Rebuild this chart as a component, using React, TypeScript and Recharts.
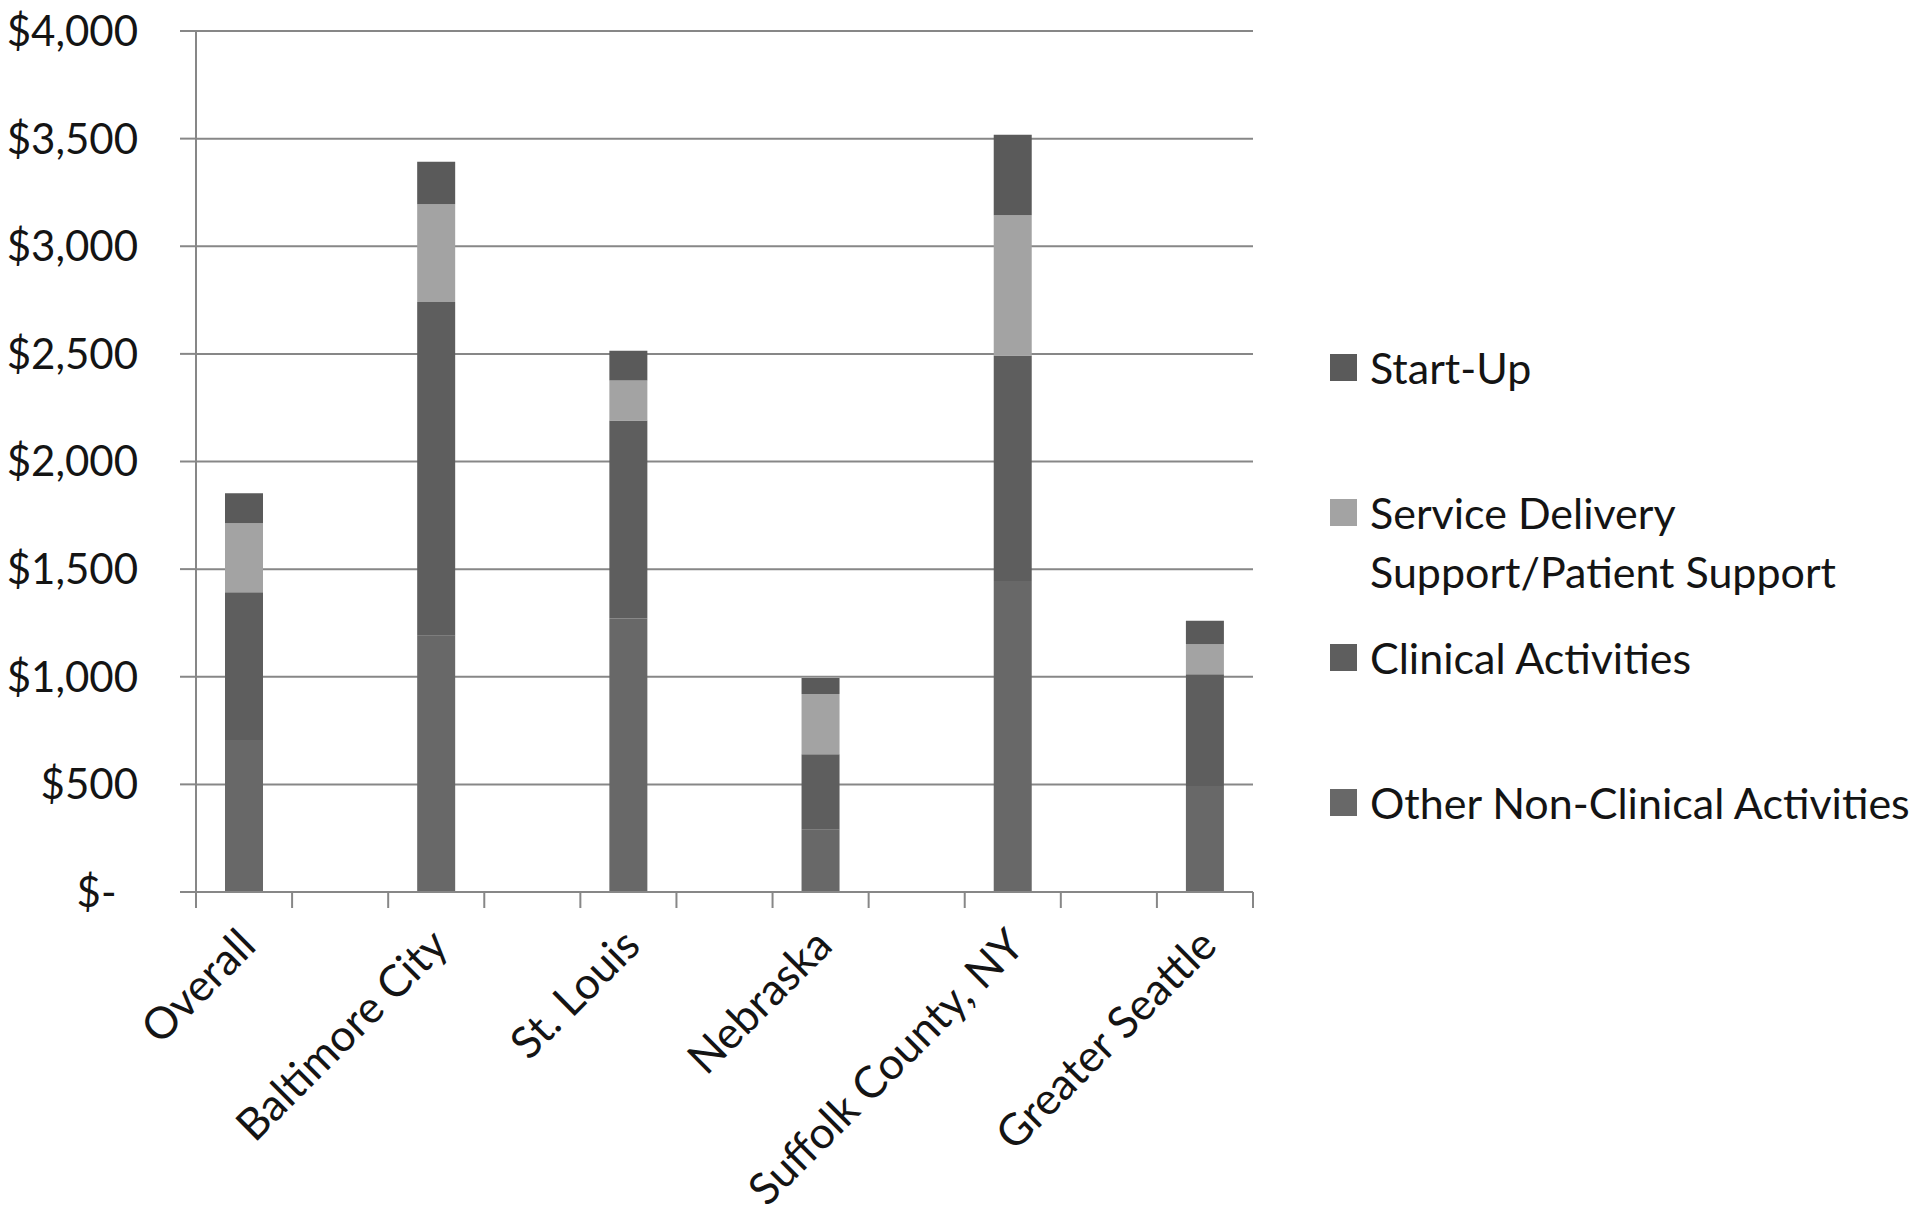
import React from 'react'
import { BarChart, Bar, XAxis, YAxis, CartesianGrid, Legend } from 'recharts'

const sites = ['Overall', 'Baltimore City', 'St. Louis', 'Nebraska', 'Suffolk County, NY', 'Greater Seattle']
const otherNonClinical = [706, 1190, 1271, 289, 1445, 492]
const clinical = [686, 1551, 920, 351, 1047, 520]
const serviceDelivery = [321, 454, 185, 280, 652, 139]
const startUp = [139, 197, 139, 74, 374, 109]
const yTicks = [0, 500, 1000, 1500, 2000, 2500, 3000, 3500, 4000]

const AXIS = '#878787'
const TEXT = '#141414'
const FONT = 'Lato, "Noto Sans", sans-serif'

// legend top-to-bottom; bars are stacked bottom-to-top in the reverse order
const series = [
  { key: 'startUp', name: ['Start-Up'], color: '#5a5a5a' },
  { key: 'service', name: ['Service Delivery', 'Support/Patient Support'], color: '#a3a3a3' },
  { key: 'clinical', name: ['Clinical Activities'], color: '#5e5e5e' },
  { key: 'other', name: ['Other Non-Clinical Activities'], color: '#686868' },
]

// Excel left an empty category between the sites
const rows: any[] = []
sites.forEach((site, i) => {
  if (i > 0) rows.push({ slot: rows.length, label: '' })
  rows.push({
    slot: rows.length,
    label: site,
    other: otherNonClinical[i],
    clinical: clinical[i],
    service: serviceDelivery[i],
    startUp: startUp[i],
  })
})

const money = (v: number) => (v === 0 ? '$-\u00a0\u00a0' : '$' + v.toLocaleString('en-US'))

function XTick(props: any) {
  const { x, y, payload, index } = props
  const half = payload.offset || 44
  const top = y - 16
  const label = rows[payload.value]?.label ?? ''
  return (
    <g>
      <line x1={x - half} x2={x - half} y1={top} y2={y} stroke={AXIS} strokeWidth={2} />
      {index === rows.length - 1 && (
        <line x1={x + half} x2={x + half} y1={top} y2={y} stroke={AXIS} strokeWidth={2} />
      )}
      {label && (
        <text
          transform={`translate(${x + 14},${top + 56}) rotate(-45)`}
          textAnchor="end"
          fill={TEXT}
          fontSize={44}
          fontFamily={FONT}
        >
          {label}
        </text>
      )}
    </g>
  )
}

function LegendBox() {
  return (
    <div style={{ fontFamily: FONT, fontSize: 43, color: TEXT }}>
      {series.map((s) => (
        <div key={s.key} style={{ display: 'flex', height: 145, lineHeight: '59px' }}>
          <div style={{ width: 27, height: 27, marginTop: 16, marginRight: 13, background: s.color, flexShrink: 0 }} />
          <div style={{ whiteSpace: 'nowrap' }}>
            {s.name.map((line) => (
              <div key={line}>{line}</div>
            ))}
          </div>
        </div>
      ))}
    </div>
  )
}

export default function App() {
  return (
    <div style={{ position: 'absolute', left: 0, top: 0, width: 1920, height: 1216, background: '#fff' }}>
      <BarChart
        width={1920}
        height={1216}
        data={rows}
        margin={{ top: 31, right: 667, bottom: 0, left: 0 }}
      >
        <CartesianGrid vertical={false} stroke={AXIS} strokeWidth={2} />
        <XAxis
          dataKey="slot"
          type="category"
          height={324}
          interval={0}
          tickLine={false}
          tickSize={16}
          tickMargin={0}
          axisLine={{ stroke: AXIS, strokeWidth: 2 }}
          tick={<XTick />}
        />
        <YAxis
          width={196}
          domain={[0, 4000]}
          ticks={yTicks}
          interval={0}
          tickFormatter={money}
          tickSize={16}
          tickMargin={42}
          axisLine={{ stroke: AXIS, strokeWidth: 2 }}
          tickLine={{ stroke: AXIS, strokeWidth: 2 }}
          tick={{ fill: TEXT, fontSize: 42, fontFamily: FONT }}
        />
        <Legend
          layout="vertical"
          align="center"
          verticalAlign="middle"
          content={<LegendBox />}
          wrapperStyle={{ position: 'absolute', left: 1330, top: 338, width: 590, height: 'auto' }}
        />
        <Bar dataKey="other" stackId="a" fill="#686868" barSize={38} isAnimationActive={false} />
        <Bar dataKey="clinical" stackId="a" fill="#5e5e5e" barSize={38} isAnimationActive={false} />
        <Bar dataKey="service" stackId="a" fill="#a3a3a3" barSize={38} isAnimationActive={false} />
        <Bar dataKey="startUp" stackId="a" fill="#5a5a5a" barSize={38} isAnimationActive={false} />
      </BarChart>
    </div>
  )
}
